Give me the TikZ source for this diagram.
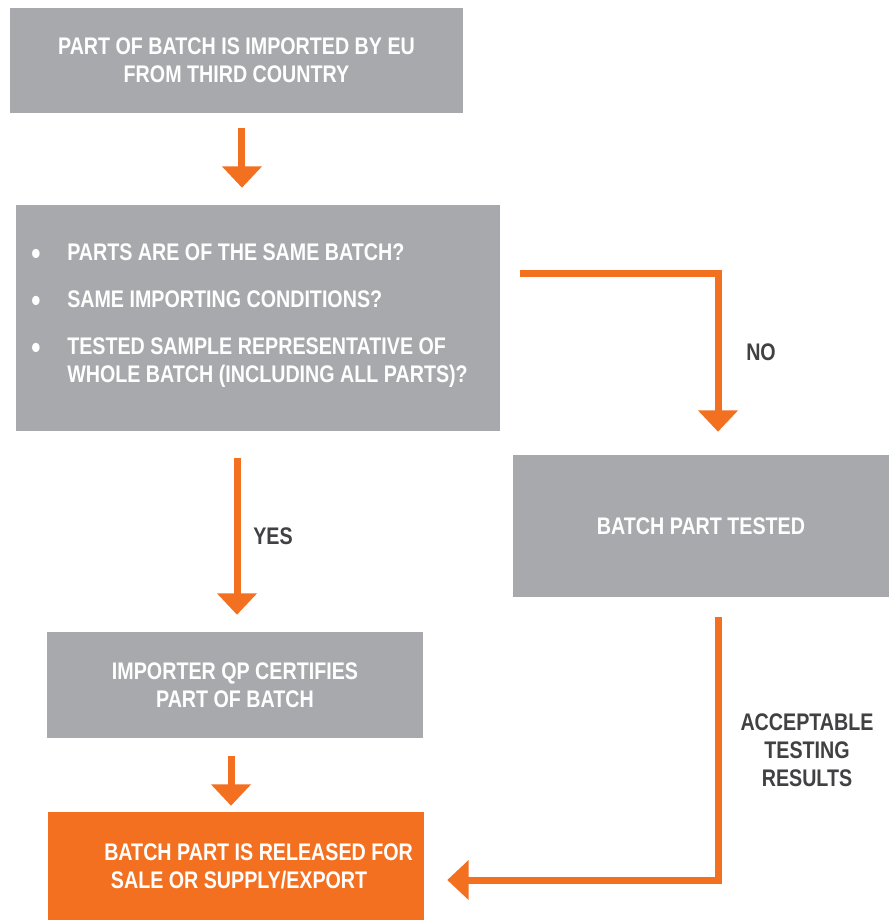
\documentclass[tikz,border=0pt]{standalone}
\usepackage{fontspec}
\setmainfont[FakeStretch=0.82]{Liberation Sans}
\usetikzlibrary{arrows.meta,positioning}
\definecolor{flowgray}{HTML}{A7A9AC}
\definecolor{floworange}{HTML}{F37021}
\definecolor{labelgray}{HTML}{414042}
\newcommand\bigbullet{\raisebox{-3pt}{\fontsize{24}{21}\selectfont\textbullet}}

\begin{document}
\begin{tikzpicture}[x=0.75pt,y=-0.75pt,font=\fontsize{18}{21}\selectfont\bfseries,
 box/.style={fill=flowgray,text=white,align=center,inner sep=0pt},
 flow/.style={-{Triangle[width=29pt,length=16pt]},draw=floworange,line width=5.25pt},
 lab/.style={text=labelgray,align=center}]
\useasboundingbox (0,0) rectangle (893,920);
\node[box,minimum width=339.75pt,minimum height=78.75pt] (imp) at (236.5,60.5) {PART OF BATCH IS IMPORTED BY EU\\FROM THIRD COUNTRY};
\node[box,minimum width=363pt,minimum height=169.5pt] (chk) at (258,318) {};
\node[text=white,anchor=west,inner sep=0pt] (chktxt) at (31,315.5) {\begin{tabular}{@{}p{27pt}@{}l@{}}
\bigbullet & PARTS ARE OF THE SAME BATCH?\\[14.25pt]
\bigbullet & SAME IMPORTING CONDITIONS?\\[14.25pt]
\bigbullet & TESTED SAMPLE REPRESENTATIVE OF\\
 & WHOLE BATCH (INCLUDING ALL PARTS)?
\end{tabular}};
\node[box,minimum width=282pt,minimum height=106.5pt] (tst) at (701,526) {BATCH PART TESTED};
\node[box,minimum width=282pt,minimum height=79.5pt] (cert) at (235,685) {IMPORTER QP CERTIFIES\\PART OF BATCH};
\node[box,fill=floworange,minimum width=282pt,minimum height=81pt] (rel) at (236,866) {};
\node[text=white,anchor=west,align=left,inner sep=0pt] (reltxt) at (104,866) {BATCH PART IS RELEASED FOR\\\hspace{5pt}SALE OR SUPPLY/EXPORT};
% connectors
\draw[flow,shorten <=11.25pt,shorten >=12.75pt] ([xshift=4.1pt]imp.south) -- ([xshift=4.1pt]imp.south |- chk.north);
\draw[flow,shorten <=15pt,shorten >=17.25pt] ([yshift=33.75pt]chk.east) -| ([xshift=12.75pt]tst.north);
\draw[flow,shorten <=20.25pt,shorten >=12.75pt] ([xshift=-15.75pt]chk.south) -- ([xshift=-15.75pt]chk.south |- cert.north);
\draw[flow,shorten <=13.5pt,shorten >=4.5pt] ([xshift=-3pt]cert.south) -- ([xshift=-3pt]cert.south |- rel.north);
\draw[flow,shorten <=15pt,shorten >=17.25pt] ([xshift=12.75pt]tst.south) |- ([yshift=-10.5pt]rel.east);
\node[lab] (no) at (761,352) {NO};
\node[lab] (yes) at (273,536) {YES};
\node[lab] (acc) at (807,750) {ACCEPTABLE\\TESTING\\RESULTS};
\end{tikzpicture}
\end{document}
